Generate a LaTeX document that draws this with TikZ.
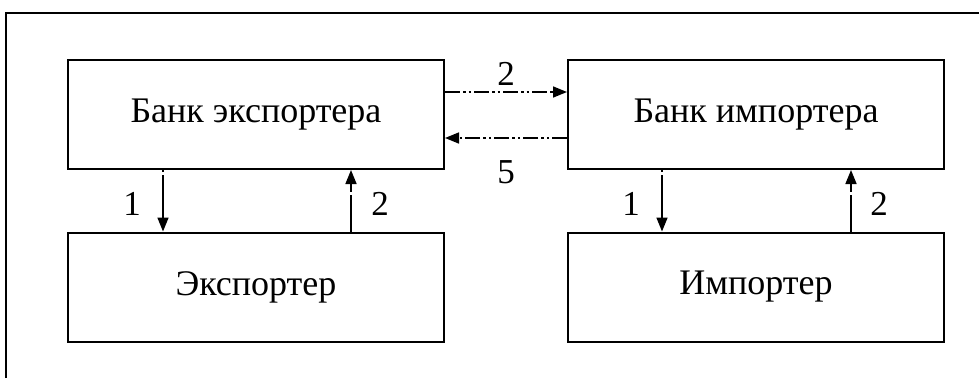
\documentclass[tikz,border=0pt]{standalone}
\usepackage{fontspec}
\setmainfont{Liberation Serif}
\usetikzlibrary{arrows.meta}
\begin{document}
\begin{tikzpicture}[x=1pt,y=1pt,
  box/.style={draw,line width=2pt,minimum width=376pt,minimum height=109pt,inner sep=0pt,font=\fontsize{36}{42}\selectfont},
  lbl/.style={font=\fontsize{35}{40}\selectfont,inner sep=0pt},
  arr/.style={line width=1.6pt,-{Triangle[length=14pt,width=11pt]}},
  dashdd/.style={dash pattern=on 15pt off 3pt on 2.5pt off 3pt on 2.5pt off 3pt}]
\useasboundingbox (0,0) rectangle (979,-378);
% outer frame (only top and left edges visible)
\draw[line width=2pt] (6,-378) -- (6,-13) -- (979,-13);
\node[box] (bexp) at (256,-114.5) {Банк экспортера};
\node[box] (exp)  at (256,-287) {Экспортер};
\node[box] (bimp) at (756,-114.5) {Банк импортера};
\node[box] (imp)  at (756,-287) {Импортер};
% horizontal arrows
\draw[arr,dashdd] (bexp.east |- 0,-92) -- (bimp.west |- 0,-92);
\draw[arr,dashdd] (bimp.west |- 0,-138) -- (bexp.east |- 0,-138);
\node[lbl] (l2top) at (506,-74) {2};
\node[lbl] (l5) at (506,-172) {5};
% vertical arrows left
\draw[arr,dash pattern=on 2pt off 3pt on 200pt] (bexp.south -| 163,0) -- (exp.north -| 163,0);
\draw[arr,dash pattern=on 37pt off 3pt on 200pt] (exp.north -| 351,0) -- (bexp.south -| 351,0);
\node[lbl] (l1a) at (132,-204) {1};
\node[lbl] (l2a) at (380,-204) {2};
% vertical arrows right
\draw[arr,dash pattern=on 2pt off 3pt on 200pt] (bimp.south -| 662,0) -- (imp.north -| 662,0);
\draw[arr,dash pattern=on 37pt off 3pt on 200pt] (imp.north -| 851,0) -- (bimp.south -| 851,0);
\node[lbl] (l1b) at (631,-204) {1};
\node[lbl] (l2b) at (879,-204) {2};
\end{tikzpicture}
\end{document}
